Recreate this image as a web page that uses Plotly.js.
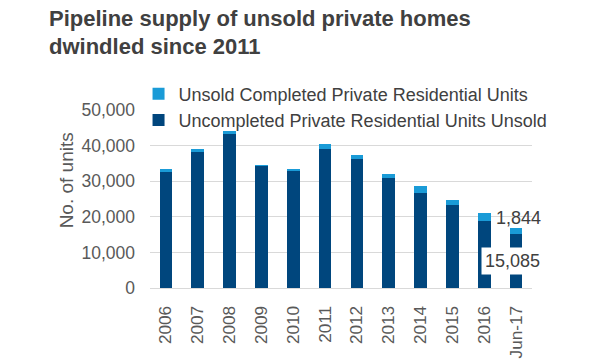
<!DOCTYPE html>
<html>
<head>
<meta charset="utf-8">
<script src="https://cdn.plot.ly/plotly-3.0.1.min.js"></script>
<style>html,body{margin:0;padding:0;background:#fff;}#chart{width:600px;height:360px;}</style>
</head>
<body>
<div id="chart"></div>
<script>
const categories = ['2006','2007','2008','2009','2010','2011','2012','2013','2014','2015','2016','Jun-17'];
const uncompleted = [32500, 38300, 43400, 34250, 32750, 38950, 36300, 30900, 26650, 23250, 18950, 15085];
const completed = [800, 650, 600, 200, 750, 1400, 950, 1250, 2050, 1350, 2050, 1844];
const seriesNames = ['Uncompleted Private Residential Units Unsold', 'Unsold Completed Private Residential Units'];
const yTicks = [0, 10000, 20000, 30000, 40000, 50000];

const FONT = 'Liberation Sans, Arial, sans-serif';
const lastIdx = categories.length - 1;
const lastTotal = uncompleted[lastIdx] + completed[lastIdx];

const traces = [
  {type:'bar', name: seriesNames[0], x: categories, y: uncompleted, marker:{color:'#00467D'}, hoverinfo:'skip'},
  {type:'bar', name: seriesNames[1], x: categories, y: completed, marker:{color:'#1A9BD7'}, hoverinfo:'skip'}
];

const layout = {
  width: 600, height: 360,
  margin: {l:150, r:68, t:110, b:72, pad:0, autoexpand:false},
  paper_bgcolor:'#fff', plot_bgcolor:'#fff',
  barmode:'stack', bargap:0.6,
  font:{family:FONT, size:17.5, color:'#595959'},
  title:{
    text:'Pipeline supply of unsold private homes<br>dwindled since 2011',
    font:{family:FONT, size:22, color:'#404040', weight:700},
    x:49/600, xanchor:'left', xref:'container',
    y:0.929, yanchor:'top', yref:'container'
  },
  showlegend:true,
  legend:{
    x:-0.03, xanchor:'left', y:1.194, yanchor:'top',
    traceorder:'reversed', bgcolor:'rgba(0,0,0,0)',
    font:{family:FONT, size:18, color:'#404040'},
    tracegroupgap:0
  },
  xaxis:{
    type:'category', range:[-0.5, categories.length - 0.5], autorange:false,
    showline:true, linecolor:'#d9d9d9', linewidth:1,
    ticks:'', tickangle:-90, showgrid:false, zeroline:false,
    tickfont:{family:FONT, size:17.2, color:'#595959'},
    ticklabelstandoff:10
  },
  yaxis:{
    range:[0,50000], autorange:false, tickvals:yTicks, tickformat:',d',
    showgrid:true, gridcolor:'#d9d9d9', gridwidth:1,
    zeroline:false, showline:false, ticks:'',
    tickfont:{family:FONT, size:17.5, color:'#595959'},
    ticklabelstandoff:14
  },
  annotations:[
    {text:'No. of units', xref:'paper', yref:'paper', x:(66.7-150)/382, y:0.603,
     xanchor:'center', yanchor:'middle', textangle:-90, showarrow:false,
     font:{family:FONT, size:19, color:'#595959'}},
    {text: completed[lastIdx].toLocaleString('en-US'), x: categories[lastIdx], y: lastTotal,
     xref:'x', yref:'y', showarrow:false, xanchor:'center', yanchor:'middle', yshift:10, xshift:2,
     font:{family:FONT, size:18, color:'#404040'}},
    {text: uncompleted[lastIdx].toLocaleString('en-US'), x: categories[lastIdx], y: uncompleted[lastIdx]/2,
     xref:'x', yref:'y', showarrow:false, xanchor:'center', yanchor:'middle', xshift:-4,
     bgcolor:'#ffffff', borderpad:3,
     font:{family:FONT, size:18, color:'#404040'}}
  ]
};

Plotly.newPlot('chart', traces, layout, {displayModeBar:false, staticPlot:true});
</script>
</body>
</html>
